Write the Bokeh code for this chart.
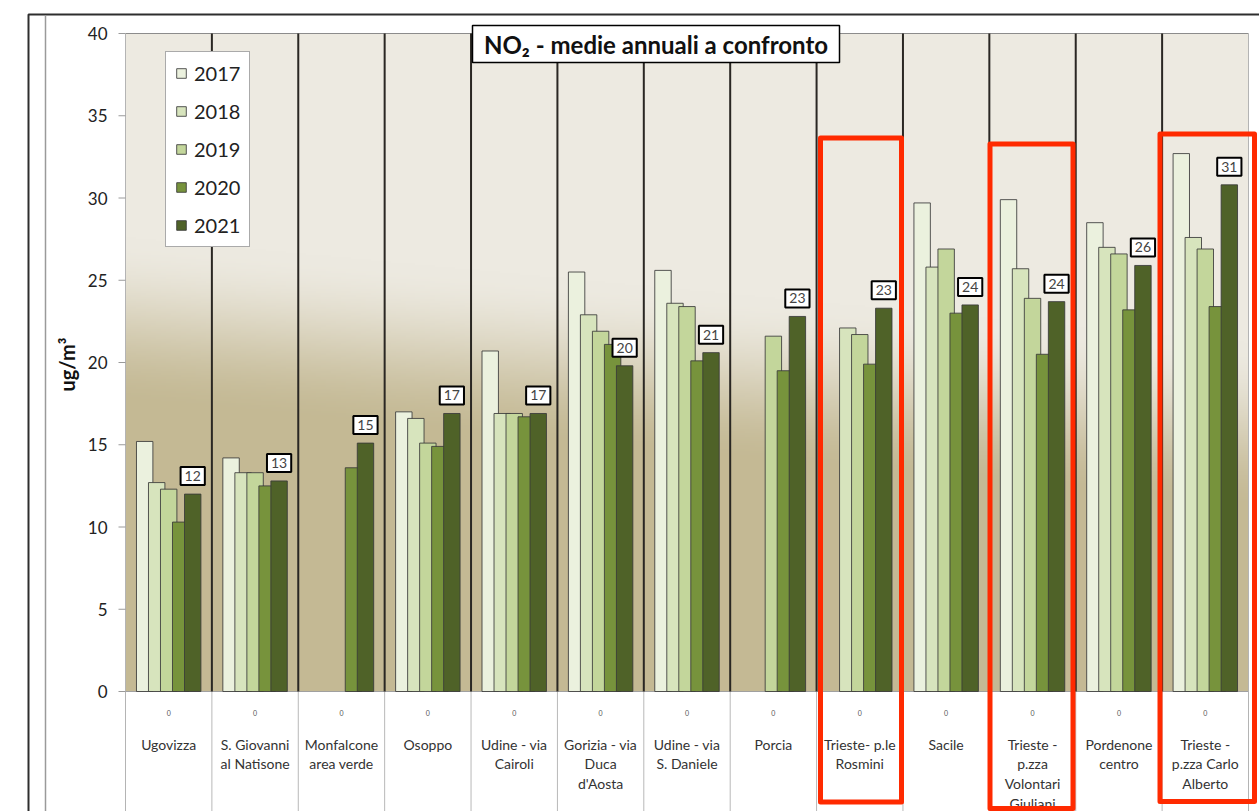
import numpy as np
from bokeh.plotting import figure
from bokeh.models import ColumnDataSource, Range1d, Legend, LegendItem
from bokeh.core.properties import value
from bokeh.embed import file_html
from bokeh.resources import INLINE

# ---- data: annual mean NO2 (ug/m3) per monitoring station ----
stations = [
    "Ugovizza",
    "S. Giovanni\nal Natisone",
    "Monfalcone\narea verde",
    "Osoppo",
    "Udine - via\nCairoli",
    "Gorizia - via\nDuca\nd'Aosta",
    "Udine - via\nS. Daniele",
    "Porcia",
    "Trieste- p.le\nRosmini",
    "Sacile",
    "Trieste -\np.zza\nVolontari\nGiuliani",
    "Pordenone\ncentro",
    "Trieste -\np.zza Carlo\nAlberto",
]
years = ["2017", "2018", "2019", "2020", "2021"]
no2_2017 = [15.2, 14.2, None, 17.0, 20.7, 25.5, 25.6, None, None, 29.7, 29.9, 28.5, 32.7]
no2_2018 = [12.7, 13.3, None, 16.6, 16.9, 22.9, 23.6, None, 22.1, 25.8, 25.7, 27.0, 27.6]
no2_2019 = [12.3, 13.3, None, 15.1, 16.9, 21.9, 23.4, 21.6, 21.7, 26.9, 23.9, 26.6, 26.9]
no2_2020 = [10.3, 12.5, 13.6, 14.9, 16.7, 21.1, 20.1, 19.5, 19.9, 23.0, 20.5, 23.2, 23.4]
no2_2021 = [12.0, 12.8, 15.1, 16.9, 16.9, 19.8, 20.6, 22.8, 23.3, 23.5, 23.7, 25.9, 30.8]
series = [no2_2017, no2_2018, no2_2019, no2_2020, no2_2021]
y_ticks = [0, 5, 10, 15, 20, 25, 30, 35, 40]

colors = ["#EBF1DE", "#D7E4BD", "#C3D69B", "#77933C", "#4F6228"]

# ---- page geometry (pixels) ----
W, H = 1259, 811
PLOT_L, PLOT_R = 125.0, 1248.0
ZERO_PY, TOP_PY = 691.0, 33.0
N = len(stations)
CAT_W = (PLOT_R - PLOT_L) / N
UNIT = (ZERO_PY - TOP_PY) / 40.0


def fx(px):
    return (px - PLOT_L) / CAT_W


def fy(py):
    return (ZERO_PY - py) / UNIT


p = figure(width=W, height=H,
           x_range=Range1d(fx(0), fx(W)), y_range=Range1d(fy(H), fy(0)),
           x_axis_type=None, y_axis_type=None,
           toolbar_location=None, output_backend="svg", min_border=0)
p.outline_line_color = None
p.background_fill_color = "white"
p.border_fill_color = "white"

# ---- diagonal beige gradient behind the bars ----
GH, GW = 329, 225
rows = np.arange(GH)[:, None]
cols = np.arange(GW)[None, :]
s_top = 1.0 - (rows + 0.5) / GH          # 0 at top of plot, 1 at baseline
u = (cols + 0.5) / GW                     # 0 left, 1 right
mid = 0.44 + 0.16 * u
t = np.clip((s_top - mid) / 0.26 + 0.5, 0, 1)
t = t * t * (3 - 2 * t)
light = np.array([237, 234, 225], dtype=float)
dark = np.array([196, 185, 148], dtype=float)
img = np.empty((GH, GW), dtype=np.uint32)
view = img.view(dtype=np.uint8).reshape((GH, GW, 4))
for k in range(3):
    view[:, :, k] = (light[k] * (1 - t) + dark[k] * t).astype(np.uint8)
view[:, :, 3] = 255
p.image_rgba(image=[img], x=0, y=0, dw=N, dh=40)

# ---- frame lines of the chart area ----
p.line(x=[fx(28), fx(28), fx(W)], y=[fy(H), fy(14), fy(14)], line_color="#2e2e2e", line_width=2)
p.line(x=[fx(45), fx(45)], y=[fy(H), fy(15)], line_color="#9a9a9a", line_width=1.5)

# plot borders
p.line(x=[0, N], y=[40, 40], line_color="#8c8c8c", line_width=1)
p.line(x=[0, N], y=[0, 0], line_color="#a0a0a0", line_width=1)
p.segment(x0=[0, N], y0=[fy(H), fy(H)], x1=[0, N], y1=[40, 40], line_color="#b4b4b4", line_width=1)

# station separators: dark in the plot, light in the label band
seps = list(range(1, N))
p.segment(x0=seps, y0=[fy(H)] * len(seps), x1=seps, y1=[0] * len(seps), line_color="#b8b8b8", line_width=1)
p.segment(x0=seps, y0=[0] * len(seps), x1=seps, y1=[40] * len(seps), line_color="#2a2723", line_width=2)

# ---- bars ----
offsets = [-0.278, -0.139, 0.0, 0.139, 0.278]
renderers = []
for yr, vals, col, off in zip(years, series, colors, offsets):
    xs = [i + 0.5 + off for i, v in enumerate(vals) if v is not None]
    tops = [v for v in vals if v is not None]
    src = ColumnDataSource(dict(x=xs, top=tops))
    r = p.vbar(x="x", top="top", bottom=0, width=0.19, source=src,
               fill_color=col, line_color="#3a3a3a", line_width=1, line_alpha=0.85)
    renderers.append(r)

# ---- value labels on the 2021 bars ----
lab_src = ColumnDataSource(dict(
    x=[i + 0.5 + offsets[4] for i in range(N)],
    y=no2_2021,
    text=[str(int(np.floor(v + 0.5))) for v in no2_2021],
))
p.text(x="x", y="y", text="text", source=lab_src,
       text_align="center", text_baseline="bottom", y_offset=-9,
       text_font=value("Lato"), text_font_size="14px", text_color="#444444",
       background_fill_color="white", border_line_color="black", border_line_width=2,
       padding=4)

# ---- y axis (ticks and labels) ----
p.segment(x0=[fx(118)] * len(y_ticks), y0=y_ticks, x1=[0] * len(y_ticks), y1=y_ticks,
          line_color="#9a9a9a", line_width=1)
p.text(x=[fx(107)] * len(y_ticks), y=y_ticks, text=[str(v) for v in y_ticks],
       text_align="right", text_baseline="middle",
       text_font=value("Lato"), text_font_size="17px", text_color="#222222")
p.text(x=[fx(66)], y=[fy(364)], text=["ug/m³"], angle=np.pi / 2,
       text_align="center", text_baseline="middle",
       text_font=value("Lato"), text_font_style="bold", text_font_size="20px", text_color="#111111")

# ---- station labels under the plot ----
centers = [i + 0.5 for i in range(N)]
p.text(x=centers, y=[fy(712)] * N, text=["0"] * N,
       text_align="center", text_baseline="middle",
       text_font=value("Lato"), text_font_size="7px", text_color="#555555")
p.text(x=centers, y=[fy(735)] * N, text=stations,
       text_align="center", text_baseline="top", text_line_height=1.17,
       text_font=value("Lato"), text_font_size="14px", text_color="#333333")

# ---- title box ----
p.quad(left=[fx(472)], right=[fx(839)], top=[fy(25)], bottom=[fy(62)],
       fill_color="white", line_color="black", line_width=1.5)
p.text(x=[fx(655.5)], y=[fy(44)], text=["NO₂ - medie annuali a confronto"],
       text_align="center", text_baseline="middle",
       text_font=value("Lato"), text_font_style="bold", text_font_size="24px", text_color="#111111")

# ---- red highlight frames around the Trieste stations ----
box_px = [(820, 901, 137.5, 801.5), (989.5, 1072.5, 143.5, 808), (1159.5, 1254, 133.5, 801)]
p.quad(left=[fx(b[0]) for b in box_px], right=[fx(b[1]) for b in box_px],
       top=[fy(b[2]) for b in box_px], bottom=[fy(b[3]) for b in box_px],
       fill_color=None, line_color="#ff2a00", line_width=5, line_join="round")

# ---- legend ----
legend = Legend(items=[LegendItem(label=yr, renderers=[r]) for yr, r in zip(years, renderers)],
                location=(165, H - 247), orientation="vertical",
                background_fill_color="white", background_fill_alpha=1.0,
                border_line_color="#555555", border_line_width=1,
                label_text_font="Lato", label_text_font_size="20px", label_text_color="#222222",
                glyph_width=12, glyph_height=12, label_standoff=7,
                padding=9, spacing=14, margin=0)
p.add_layout(legend)

open("out.html", "w").write(file_html(p, INLINE))
